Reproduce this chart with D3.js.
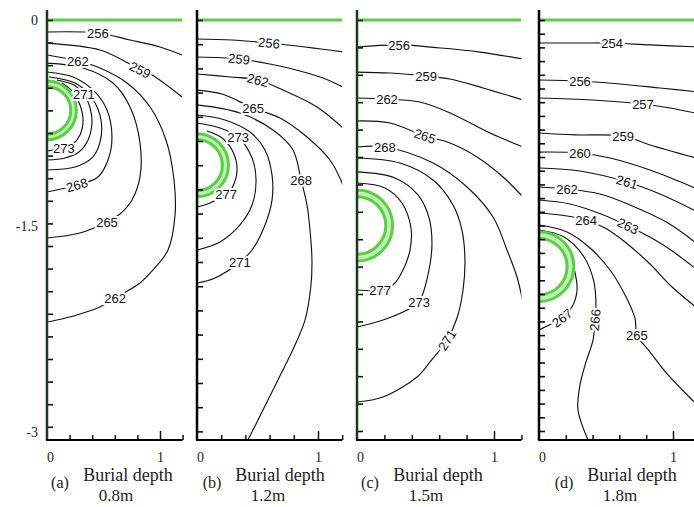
<!DOCTYPE html>
<html><head><meta charset="utf-8">
<script src="https://cdn.jsdelivr.net/npm/d3@7"></script>
<style>
html,body{margin:0;padding:0;background:#fff;}
svg{display:block;}
</style></head><body>
<svg id="chart" width="694" height="507"></svg>
<script>
// ---------------- data ----------------
const panelIds = ["a", "b", "c", "d"];
const burialDepths = [0.8, 1.2, 1.5, 1.8];     // pipe centre depth (m)
const pipeRingRadii = [0.26, 0.21];            // outer / inner ring (m)
const xTickValues = [0, 1];
const xTickLabels = ["0", "1"];
const yTickValues = [0, -1.5, -3];
const yTickLabels = ["0", "-1.5", "-3"];

// isotherms: level (K) and [x (m), y (m)] points
const contoursA = [
  {level:256, pts:[[0,-.106],[.451,-.115],[.735,-.177],[1.0,-.239],[1.195,-.31]]},
  {level:259, pts:[[0,-.204],[.469,-.265],[.717,-.381],[.823,-.442],[.929,-.487],[1.195,-.681]]},
  {level:262, pts:[[0,-.31],[.274,-.363],[.469,-.425],[.708,-.558],[.912,-.77],[1.053,-1.062],[1.124,-1.416],[1.133,-1.726],[1.071,-2.035],[.938,-2.212],[.823,-2.327],[.602,-2.46],[.469,-2.54],[.265,-2.61],[.088,-2.655],[0,-2.673]]},
  {level:265, pts:[[0,-.381],[.319,-.425],[.584,-.558],[.735,-.77],[.823,-1.088],[.823,-1.389],[.752,-1.593],[.646,-1.717],[.531,-1.788],[.292,-1.885],[0,-1.929]]},
  {level:268, pts:[[0,-.46],[.23,-.504],[.407,-.619],[.531,-.796],[.575,-1.035],[.54,-1.239],[.451,-1.389],[.265,-1.46],[0,-1.522]]},
  {level:270, pts:[[.018,-.504],[.248,-.558],[.398,-.69],[.478,-.885],[.469,-1.08],[.398,-1.221],[.248,-1.301],[0,-1.327]]},
  {level:271, pts:[[.088,-.531],[.239,-.575],[.327,-.655],[.381,-.779],[.398,-.903],[.363,-1.062],[.283,-1.168],[.159,-1.221],[0,-1.239]]},
  {level:273, pts:[[.133,-.558],[.23,-.637],[.292,-.752],[.319,-.885],[.292,-1.018],[.221,-1.106],[.15,-1.133],[0,-1.159]]}
];
const contoursB = [
  {level:256, pts:[[0,-.157],[.289,-.165],[.595,-.19],[.893,-.223],[1.207,-.264]]},
  {level:259, pts:[[0,-.306],[.347,-.322],[.603,-.364],[.851,-.421],[1.041,-.479],[1.207,-.554]]},
  {level:262, pts:[[0,-.446],[.273,-.471],[.504,-.496],[.711,-.579],[.992,-.719],[1.207,-.893]]},
  {level:265, pts:[[0,-.579],[.207,-.612],[.463,-.727],[.686,-.81],[.909,-.967],[1.099,-1.157],[1.207,-1.364]]},
  {level:268, pts:[[0,-.702],[.355,-.769],[.628,-.909],[.793,-1.074],[.86,-1.322],[.909,-1.529],[.934,-1.736],[.95,-1.983],[.942,-2.19],[.893,-2.479],[.81,-2.686],[.669,-2.975],[.537,-3.24],[.421,-3.471]]},
  {level:271, pts:[[0,-.785],[.231,-.826],[.438,-.926],[.562,-1.074],[.62,-1.281],[.62,-1.488],[.562,-1.694],[.455,-1.901],[.355,-2.0],[.149,-2.132],[0,-2.174]]},
  {level:273, pts:[[0,-.851],[.19,-.893],[.339,-.967],[.455,-1.14],[.488,-1.322],[.455,-1.529],[.355,-1.694],[.19,-1.835],[0,-1.901]]},
  {level:277, pts:[[.083,-.917],[.207,-.975],[.298,-1.091],[.331,-1.24],[.289,-1.388],[.24,-1.438],[.107,-1.512],[0,-1.545]]}
];
const contoursC = [
  {level:256, pts:[[0,-.197],[.307,-.182],[.606,-.204],[.898,-.234],[1.212,-.285]]},
  {level:259, pts:[[0,-.38],[.241,-.387],[.504,-.409],[.679,-.431],[.92,-.496],[1.212,-.584]]},
  {level:262, pts:[[0,-.569],[.219,-.577],[.46,-.599],[.679,-.679],[.971,-.825],[1.212,-.927]]},
  {level:265, pts:[[0,-.737],[.241,-.752],[.496,-.847],[.679,-.898],[.876,-1.0],[1.066,-1.146],[1.212,-1.292]]},
  {level:268, pts:[[0,-.927],[.204,-.927],[.555,-1.044],[.803,-1.219],[.993,-1.438],[1.095,-1.679],[1.168,-1.876],[1.212,-2.066]]},
  {level:271, pts:[[0,-1.007],[.314,-1.044],[.555,-1.168],[.701,-1.35],[.766,-1.533],[.788,-1.752],[.774,-1.971],[.73,-2.175],[.657,-2.336],[.533,-2.496],[.438,-2.606],[.19,-2.752],[0,-2.788]]},
  {level:273, pts:[[0,-1.109],[.277,-1.153],[.445,-1.277],[.526,-1.445],[.547,-1.642],[.518,-1.861],[.453,-2.058],[.365,-2.117],[.19,-2.19],[0,-2.241]]},
  {level:277, pts:[[0,-1.19],[.204,-1.226],[.328,-1.336],[.394,-1.518],[.387,-1.679],[.336,-1.825],[.263,-1.934],[.168,-1.971],[0,-1.971]]}
];
const contoursD = [
  {level:254, pts:[[0,-.168],[.306,-.168],[.545,-.168],[.828,-.182],[1.2,-.197]]},
  {level:256, pts:[[0,-.438],[.306,-.445],[.604,-.467],[.903,-.496],[1.2,-.526]]},
  {level:257, pts:[[0,-.569],[.396,-.584],[.776,-.613],[.978,-.642],[1.2,-.686]]},
  {level:259, pts:[[0,-.825],[.269,-.839],[.627,-.847],[.828,-.912],[1.2,-1.015]]},
  {level:260, pts:[[0,-.964],[.306,-.971],[.53,-1.007],[.828,-1.095],[1.2,-1.241]]},
  {level:261, pts:[[0,-1.08],[.306,-1.102],[.657,-1.182],[.903,-1.27],[1.2,-1.409]]},
  {level:262, pts:[[0,-1.219],[.209,-1.234],[.455,-1.27],[.679,-1.35],[.963,-1.482],[1.2,-1.65]]},
  {level:263, pts:[[0,-1.314],[.231,-1.343],[.463,-1.416],[.664,-1.504],[.866,-1.606],[1.015,-1.701],[1.2,-1.839]]},
  {level:264, pts:[[0,-1.409],[.209,-1.431],[.351,-1.46],[.493,-1.518],[.642,-1.62],[.828,-1.781],[.993,-1.949],[1.2,-2.117]]},
  {level:265, pts:[[0,-1.496],[.209,-1.547],[.381,-1.664],[.53,-1.825],[.642,-2.007],[.716,-2.175],[.731,-2.299],[.828,-2.423],[.963,-2.591],[1.157,-2.788],[1.2,-2.832]]},
  {level:266, pts:[[0,-1.533],[.187,-1.584],[.336,-1.73],[.41,-1.912],[.425,-2.095],[.418,-2.19],[.403,-2.336],[.351,-2.496],[.306,-2.664],[.291,-2.847],[.366,-3.066]]},
  {level:267, pts:[[.261,-1.81],[.284,-1.971],[.246,-2.095],[.172,-2.175],[.045,-2.241],[0,-2.263]]}
];

// ---------------- layout ----------------
const allContours = [contoursA, contoursB, contoursC, contoursD];
// which vertex carries the level label; true = rotate along the line
const labelSpecs = [
  [[256,1,false],[259,3,true],[262,1,false],[262,11,false],[265,8,false],[268,7,true],[271,2,false],[273,6,false]],
  [[256,2,true],[259,1,true],[262,2,true],[265,2,false],[268,4,false],[271,8,false],[273,2,false],[277,5,false]],
  [[256,1,false],[259,2,false],[262,1,false],[265,2,true],[268,1,false],[271,8,true],[273,6,false],[277,7,false]],
  [[254,2,false],[256,1,false],[257,2,false],[259,2,false],[260,1,false],[261,2,true],[262,1,false],[263,3,true],[264,2,false],[265,6,false],[266,5,true],[267,3,true]]
];
const layout = [
  {x0:47,  kx:113, ky:113, axisColor:"#173d17", yStep:0.2, capDx:-1},
  {x0:197, kx:121, ky:121, axisColor:"#000",    yStep:0.2, capDx:1},
  {x0:357, kx:137, ky:137, axisColor:"#173d17", yStep:0.2, capDx:-1},
  {x0:539, kx:134, ky:137, axisColor:"#000",    yStep:0.1, capDx:11}
];
const X_MAX = 1.2, Y_AXIS_TOP = 10, Y_ZERO = 20, Y_BOTTOM = 440;
const GREEN = "#58cf44", PALE = "#c4efbb";
const serif = "'Liberation Serif','Times New Roman',serif";
const sans = "'Liberation Sans',Arial,sans-serif";

const svg = d3.select("#chart");
svg.append("rect").attr("width",694).attr("height",507).attr("fill","#fff");

layout.forEach((L, i) => {
  const x = d3.scaleLinear().domain([0, X_MAX]).range([L.x0, L.x0 + X_MAX * L.kx]);
  const y = d3.scaleLinear().domain([0, -(Y_BOTTOM - Y_ZERO) / L.ky]).range([Y_ZERO, Y_BOTTOM]);
  const g = svg.append("g");
  const clipId = "clip" + i;
  svg.append("clipPath").attr("id", clipId).append("rect")
    .attr("x", x(0)).attr("y", Y_AXIS_TOP).attr("width", x(X_MAX) - x(0)).attr("height", Y_BOTTOM - Y_AXIS_TOP);
  const plot = g.append("g").attr("clip-path", `url(#${clipId})`);

  // ground surface
  plot.append("line").attr("x1", x(0)).attr("x2", x(X_MAX)).attr("y1", y(0)).attr("y2", y(0))
    .attr("stroke", GREEN).attr("stroke-width", 3);

  // isotherms
  const line = d3.line().x(d => x(d[0])).y(d => y(d[1])).curve(d3.curveCatmullRom.alpha(0.5));
  plot.selectAll("path.iso").data(allContours[i]).join("path")
    .attr("class", "iso").attr("d", d => line(d.pts))
    .attr("fill", "none").attr("stroke", "#111").attr("stroke-width", 1.15);

  // pipe (double ring)
  const cy = y(-burialDepths[i]);
  const rOut = x(pipeRingRadii[0]) - x(0), rIn = x(pipeRingRadii[1]) - x(0);
  plot.append("circle").attr("cx", x(0)).attr("cy", cy).attr("r", (rOut + rIn) / 2)
    .attr("fill", "none").attr("stroke", PALE).attr("stroke-width", rOut - rIn);
  [rOut, rIn].forEach(r => plot.append("circle").attr("cx", x(0)).attr("cy", cy).attr("r", r)
    .attr("fill", "none").attr("stroke", GREEN).attr("stroke-width", 3));

  // level labels
  labelSpecs[i].forEach(([lev, idx, follow]) => {
    const c = allContours[i].find(d => d.level === lev);
    const p = c.pts[idx];
    let ang = 0;
    if (follow) {
      const a = c.pts[Math.max(idx - 1, 0)], b = c.pts[Math.min(idx + 1, c.pts.length - 1)];
      ang = Math.atan2(y(b[1]) - y(a[1]), x(b[0]) - x(a[0])) * 180 / Math.PI;
      if (ang > 90) ang -= 180;
      if (ang < -90) ang += 180;
    }
    plot.append("text")
      .attr("transform", `translate(${x(p[0])},${y(p[1])}) rotate(${ang})`)
      .attr("text-anchor", "middle").attr("dy", "0.36em")
      .attr("font-family", sans).attr("font-size", 13).attr("fill", "#111")
      .attr("stroke", "#fff").attr("stroke-width", 4).attr("paint-order", "stroke")
      .text(lev);
  });

  // left axis (inward ticks)
  const yTicks = d3.range(0, y.domain()[1] - 1e-9, -L.yStep);
  g.append("g").attr("transform", `translate(${x(0)},0)`)
    .call(d3.axisRight(y).tickValues(yTicks).tickSize(6).tickSizeOuter(0).tickFormat(""))
    .call(s => s.select(".domain").remove())
    .call(s => s.selectAll("line").attr("stroke", "#111").attr("stroke-width", 1.6));
  g.append("line").attr("x1", x(0)).attr("x2", x(0)).attr("y1", Y_AXIS_TOP).attr("y2", Y_BOTTOM)
    .attr("stroke", L.axisColor).attr("stroke-width", 2.5);

  // bottom axis (inward ticks)
  const xTicks = d3.range(0.2, X_MAX + 1e-9, 0.2).filter(v => v <= X_MAX);
  g.append("g").attr("transform", `translate(0,${Y_BOTTOM})`)
    .call(d3.axisTop(x).tickValues(xTicks).tickSize(5).tickSizeOuter(0).tickFormat(""))
    .call(s => s.select(".domain").remove())
    .call(s => s.selectAll(".tick line").attr("stroke", "#111").attr("stroke-width", 1.5)
      .attr("y2", d => Math.abs(d - 1) < 1e-6 ? -9 : -5));
  g.append("line").attr("x1", x(0) - 1).attr("x2", x(X_MAX)).attr("y1", Y_BOTTOM).attr("y2", Y_BOTTOM)
    .attr("stroke", "#000").attr("stroke-width", 2);

  g.append("g").attr("transform", `translate(0,${Y_BOTTOM})`)
    .call(d3.axisBottom(x).tickValues(xTickValues).tickSize(0).tickPadding(12)
      .tickFormat((d, k) => xTickLabels[k]))
    .call(s => s.select(".domain").remove())
    .call(s => s.selectAll("text").attr("font-family", serif).attr("font-size", 14).attr("fill", "#222")
      .attr("dx", d => d === 0 ? 3 : 0));

  // caption
  const cx = L.x0 + L.capDx;
  g.append("text").attr("x", cx + 14).attr("y", 488).attr("text-anchor", "middle")
    .attr("font-family", serif).attr("font-size", 16).attr("fill", "#222").text(`(${panelIds[i]})`);
  g.append("text").attr("x", cx + 82).attr("y", 481).attr("text-anchor", "middle")
    .attr("font-family", serif).attr("font-size", 18).attr("fill", "#222").text("Burial depth");
  g.append("text").attr("x", cx + 70).attr("y", 501).attr("text-anchor", "middle")
    .attr("font-family", serif).attr("font-size", 17).attr("fill", "#222").text(`${burialDepths[i]}m`);

  // y tick labels (first panel only)
  if (i === 0) {
    const yLab = d3.scaleLinear().domain([0, -3]).range([Y_ZERO, 432]);
    g.append("g").attr("transform", `translate(${x(0)},0)`)
      .call(d3.axisLeft(yLab).tickValues(yTickValues).tickSize(0).tickPadding(9)
        .tickFormat((d, k) => yTickLabels[k]))
      .call(s => s.select(".domain").remove())
      .call(s => s.selectAll("text").attr("font-family", serif).attr("font-size", 14).attr("fill", "#222"));
  }
});
</script>
</body></html>
